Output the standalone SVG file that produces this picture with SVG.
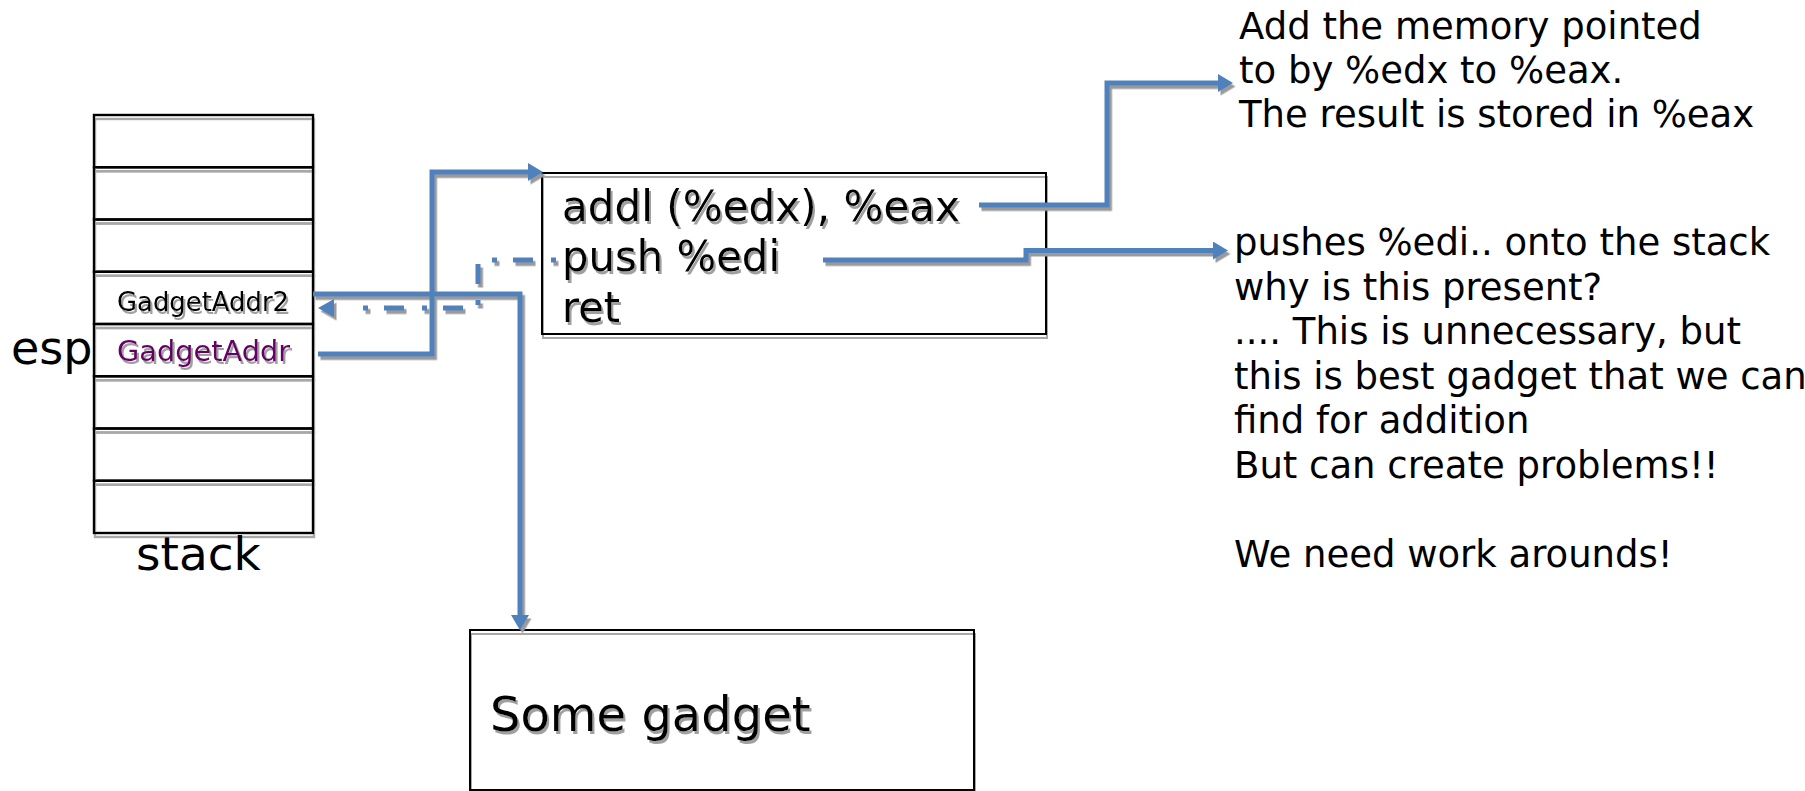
<svg xmlns="http://www.w3.org/2000/svg" xmlns:xlink="http://www.w3.org/1999/xlink" width="1805" height="791" viewBox="0 0 1805 791">
<style>
  text { font-family: "DejaVu Sans", "Liberation Sans", sans-serif; fill: #000; }
  .cell { fill: none; stroke: #000; stroke-width: 2.4; }
  .box { fill: none; stroke: #000; stroke-width: 2; }
  .wire { fill: none; stroke: #4F81BD; stroke-width: 5; stroke-linejoin: miter; marker-end: url(#ah); }
  .dash { fill: none; stroke: #4F81BD; stroke-width: 5; stroke-dasharray: 5 18 20 16; }
  .ahd { fill: #4F81BD; }
  .note { font-size: 37px; }
  .code { font-size: 43px; }
</style>
<defs>
  <marker id="ah" markerUnits="userSpaceOnUse" markerWidth="17" markerHeight="18" refX="2" refY="9" orient="auto">
    <path d="M0,0 L15,9 L0,18 z" fill="#4F81BD"/>
  </marker>
  <filter id="shB" filterUnits="userSpaceOnUse" x="0" y="0" width="1805" height="791">
    <feDropShadow dx="1" dy="4" stdDeviation="0" flood-color="#A8A8A8" flood-opacity="1"/>
  </filter>
  <filter id="shL" filterUnits="userSpaceOnUse" x="0" y="0" width="1805" height="791">
    <feDropShadow dx="2.5" dy="3.5" stdDeviation="0" flood-color="#9A9A9A" flood-opacity="1"/>
  </filter>
  <filter id="shT" x="-5%" y="-20%" width="115%" height="150%">
    <feDropShadow dx="2" dy="3" stdDeviation="0.3" flood-color="#A0A0A0" flood-opacity="1"/>
  </filter>
</defs>
<rect width="1805" height="791" fill="#fff"/>

<g id="stack" filter="url(#shB)">
  <rect class="cell" x="94" y="115" width="219" height="52.25"/>
  <rect class="cell" x="94" y="167.25" width="219" height="52.25"/>
  <rect class="cell" x="94" y="219.5" width="219" height="52.25"/>
  <rect class="cell" x="94" y="271.75" width="219" height="52.25"/>
  <rect class="cell" x="94" y="324" width="219" height="52.25"/>
  <rect class="cell" x="94" y="376.25" width="219" height="52.25"/>
  <rect class="cell" x="94" y="428.5" width="219" height="52.25"/>
  <rect class="cell" x="94" y="480.75" width="219" height="52.25"/>
</g>
<g id="cell-gadgetaddr2">
  <text x="117" y="311" font-size="27" textLength="172" lengthAdjust="spacingAndGlyphs" filter="url(#shT)">GadgetAddr2</text>
</g>
<g id="cell-gadgetaddr">
  <text x="117" y="361" font-size="29" textLength="173" lengthAdjust="spacingAndGlyphs" style="fill:#660066" filter="url(#shT)">GadgetAddr</text>
</g>
<g id="label-esp">
  <text x="11" y="364" font-size="46">esp</text>
</g>
<g id="label-stack">
  <text x="136" y="570" font-size="47">stack</text>
</g>

<g id="gadget-box">
  <rect class="box" x="542" y="173" width="504" height="161" filter="url(#shB)"/>
  <g filter="url(#shT)">
    <text class="code" x="562" y="221" textLength="398" lengthAdjust="spacingAndGlyphs">addl (%edx), %eax</text>
    <text class="code" x="562" y="271" textLength="218" lengthAdjust="spacingAndGlyphs">push %edi</text>
    <text class="code" x="562" y="322" textLength="58" lengthAdjust="spacingAndGlyphs">ret</text>
  </g>
</g>

<g id="some-gadget">
  <rect class="box" x="470" y="630" width="504" height="160" filter="url(#shB)"/>
  <text x="490" y="731" font-size="48" filter="url(#shT)">Some gadget</text>
</g>

<g id="note-addl">
  <text class="note" x="1239" y="39">Add the memory pointed</text>
  <text class="note" x="1239" y="83">to by %edx to %eax.</text>
  <text class="note" x="1239" y="127">The result is stored in %eax</text>
</g>

<g id="note-push">
  <text class="note" x="1234" y="255">pushes %edi.. onto the stack</text>
  <text class="note" x="1234" y="300">why is this present?</text>
  <text class="note" x="1234" y="344">.... This is unnecessary, but</text>
  <text class="note" x="1234" y="389">this is best gadget that we can</text>
  <text class="note" x="1234" y="433">find for addition</text>
  <text class="note" x="1234" y="478">But can create problems!!</text>
  <text class="note" x="1234" y="567">We need work arounds!</text>
</g>

<g id="connectors" filter="url(#shL)">
  <path class="wire" d="M318,354 H432 V172 H530"/>
  <path class="wire" d="M313,294 H520 V617"/>
  <path class="wire" d="M979,205 H1107 V83 H1220"/>
  <path class="wire" d="M823,260 H1026 V250.5 H1215"/>
  <path class="dash" d="M556,260 H478 V308 H346"/>
  <polygon class="ahd" points="318,308 334,299 334,317"/>
</g>
</svg>
